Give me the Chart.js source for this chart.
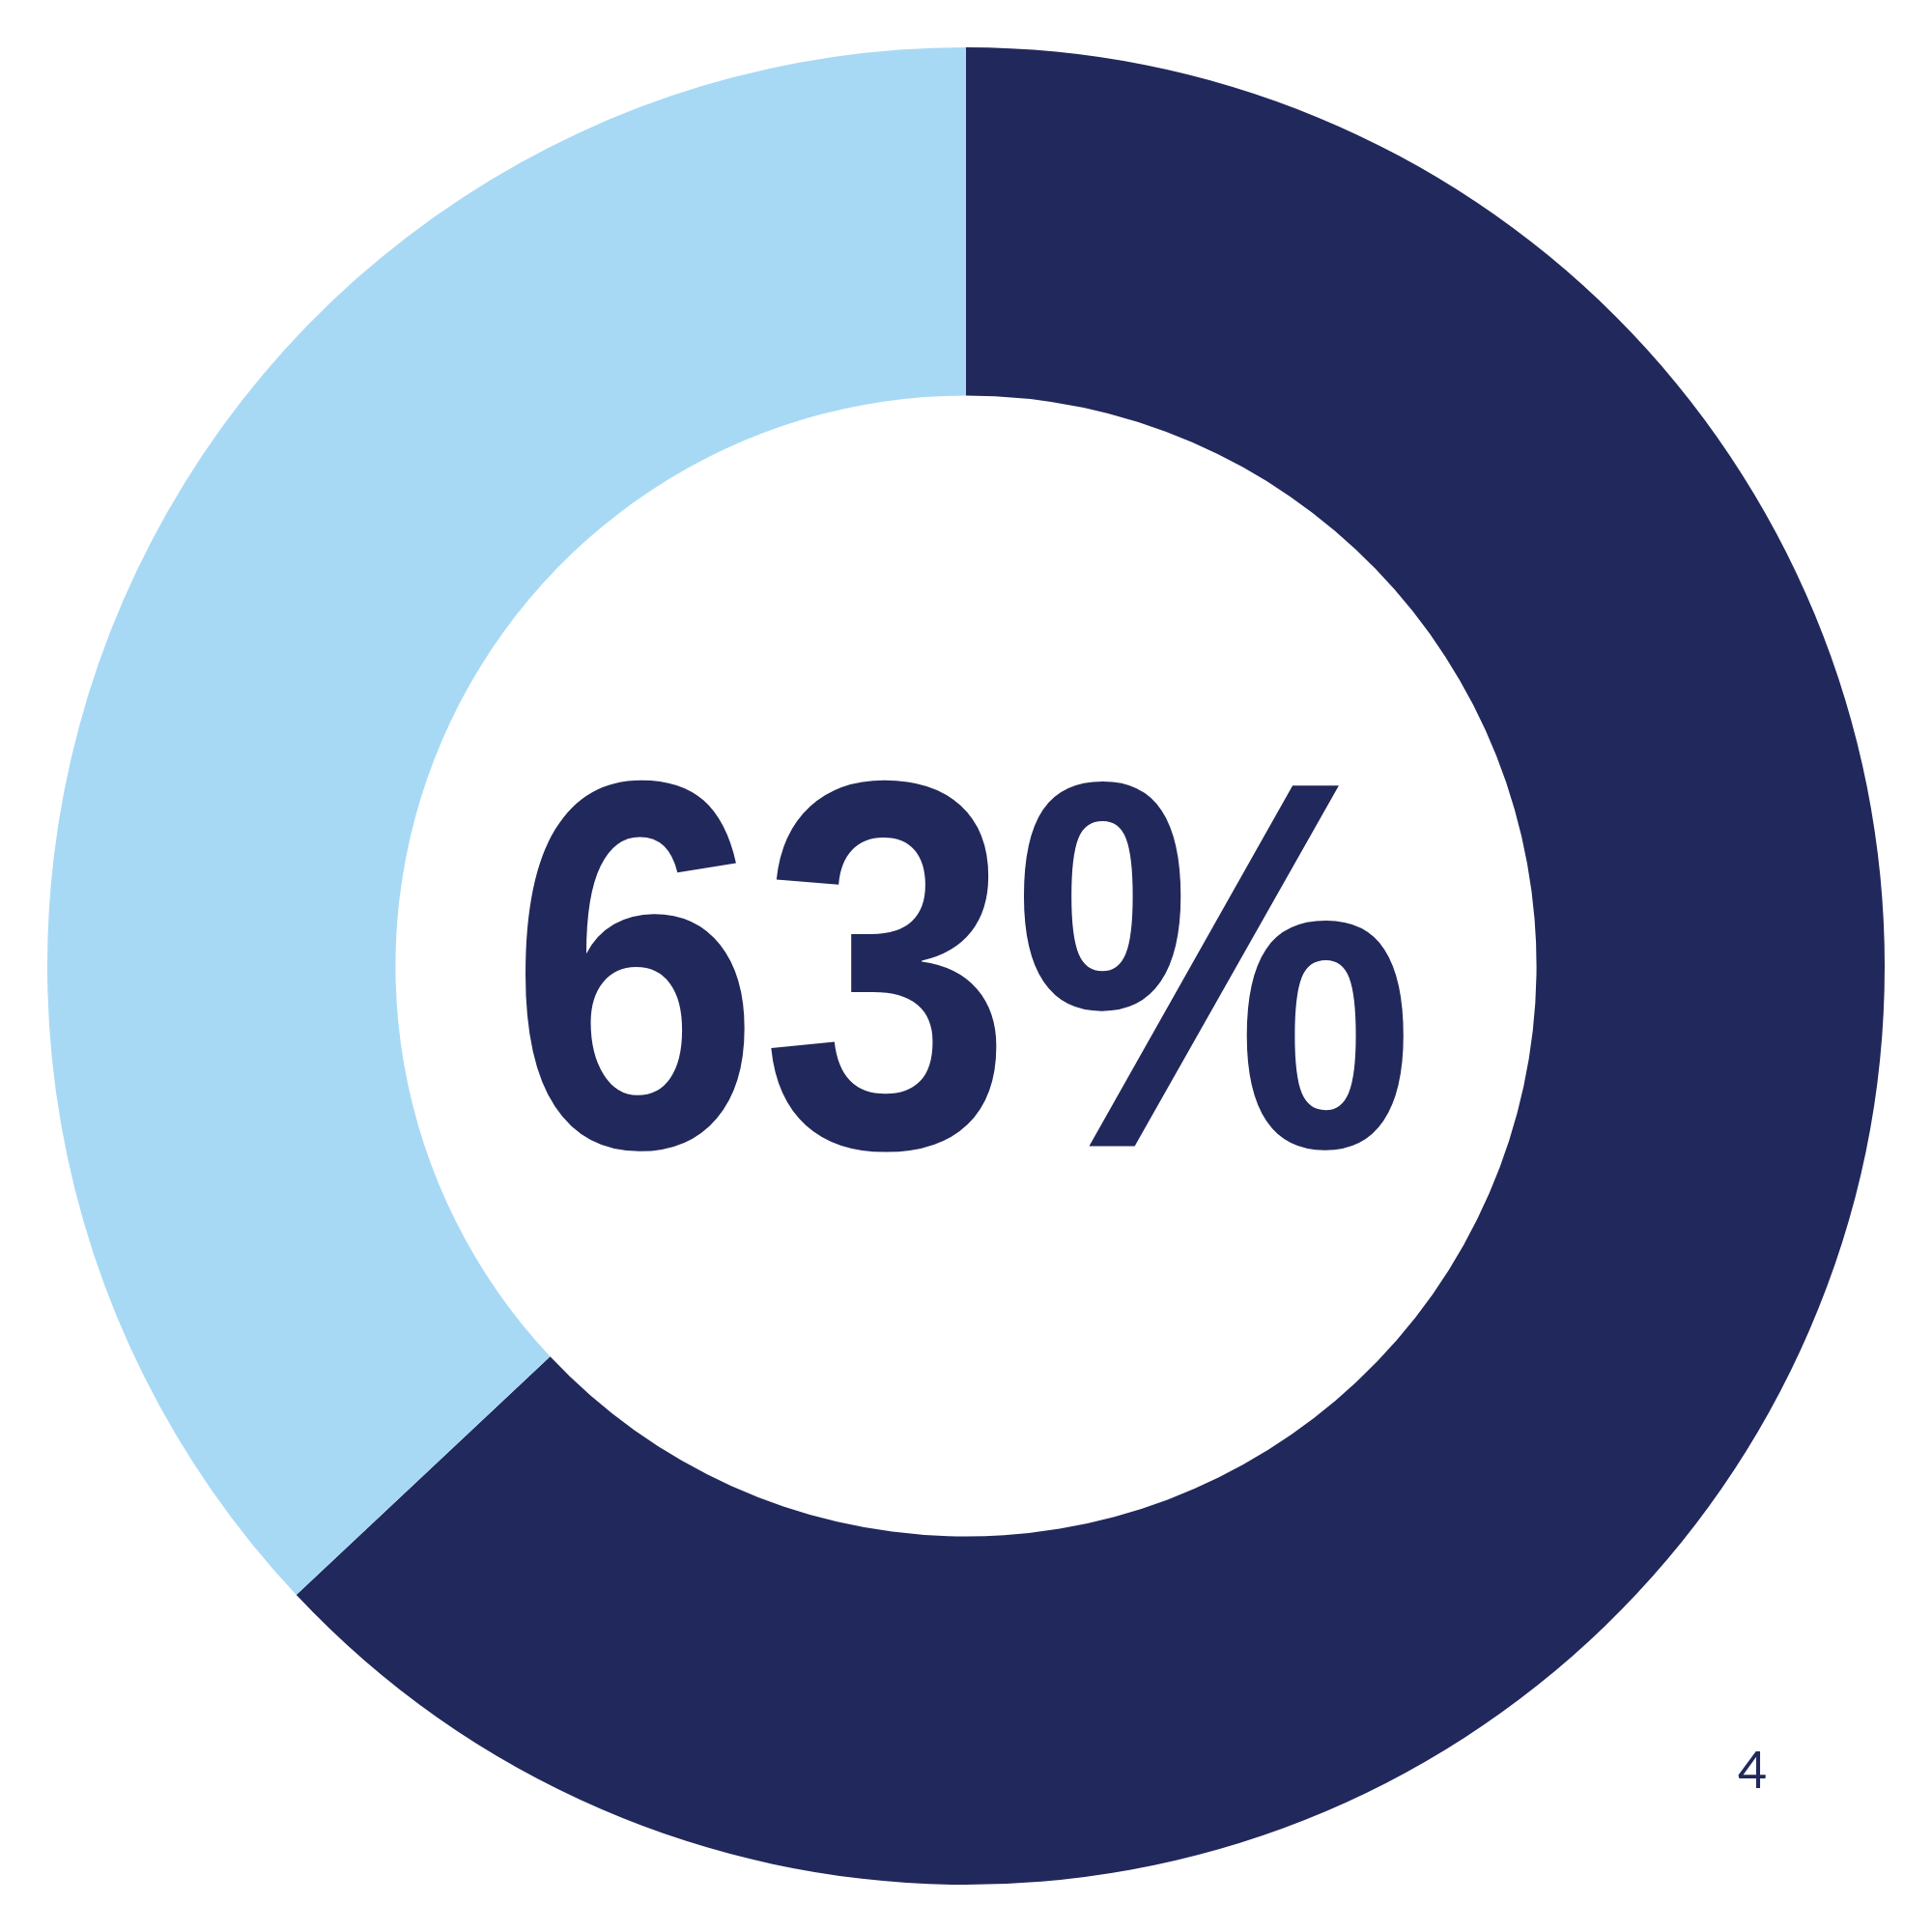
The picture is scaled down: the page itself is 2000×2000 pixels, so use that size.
<!DOCTYPE html>
<html>
<head>
<meta charset="utf-8">
<script src="https://cdn.jsdelivr.net/npm/chart.js@4"></script>
<style>
  html, body { margin: 0; padding: 0; background: #ffffff; }
  #wrap { width: 2000px; height: 2000px; position: relative; }
</style>
</head>
<body>
<div id="wrap"><canvas id="donut-chart" width="2000" height="2000"></canvas></div>
<script>
// values
const labels = ["63%", "37%"];
const shares = [63, 37];
const colours = ["#21285b", "#a7d9f5"];
const centreText = "63%";
const pageNumber = "4";

// big number in the hole + small page number
const centreLabel = {
    id: "centreLabel",
    afterDraw(chart) {
        const ctx = chart.ctx;
        const arc = chart.getDatasetMeta(0).data[0];

        // squeeze the bold number into the box seen in the reference
        const boxW = 917, boxH = 390;
        ctx.save();
        ctx.fillStyle = "#21285b";
        ctx.textAlign = "left";
        ctx.textBaseline = "alphabetic";
        ctx.font = "bold 500px 'Liberation Sans'";
        const m = ctx.measureText(centreText);
        const w = m.actualBoundingBoxLeft + m.actualBoundingBoxRight;
        const h = m.actualBoundingBoxAscent + m.actualBoundingBoxDescent;
        const sx = boxW / w, sy = boxH / h;
        ctx.translate(arc.x - boxW / 2, arc.y - boxH / 2);
        ctx.scale(sx, sy);
        ctx.fillText(centreText, m.actualBoundingBoxLeft, m.actualBoundingBoxAscent);
        ctx.restore();

        ctx.save();
        ctx.fillStyle = "#21285b";
        ctx.textAlign = "center";
        ctx.textBaseline = "alphabetic";
        ctx.font = "400 52px Lato";
        ctx.fillText(pageNumber, 1814, 1851);
        ctx.restore();
    }
};

const canvas = document.getElementById("donut-chart");

new Chart(canvas, {
    type: "doughnut",
    data: {
        labels: labels,
        datasets: [{
            data: shares,
            backgroundColor: colours,
            borderWidth: 0
        }]
    },
    options: {
        responsive: false,
        animation: false,
        devicePixelRatio: 1,
        cutout: "62.1%",
        layout: { padding: 49 },
        plugins: {
            legend: { display: false },
            tooltip: { enabled: false }
        }
    },
    plugins: [centreLabel]
});
</script>
</body>
</html>
